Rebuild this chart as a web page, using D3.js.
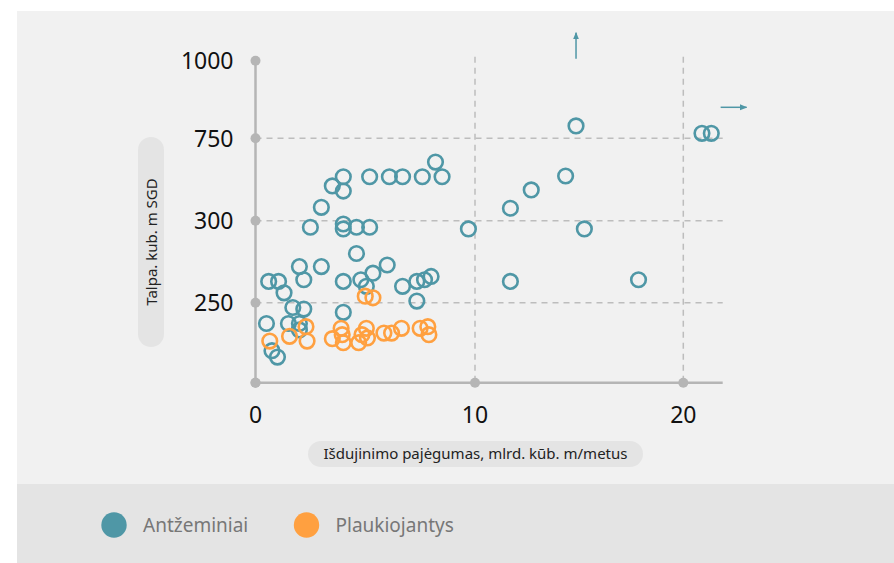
<!DOCTYPE html>
<html>
<head>
<meta charset="utf-8">
<script src="https://cdn.jsdelivr.net/npm/d3@7"></script>
<style>
  body { margin: 0; background: #fff; }
  text { font-family: "Noto Sans", "Open Sans", sans-serif; }
</style>
</head>
<body>
<div id="chart"></div>
<script>
// tick values and labels (y axis is broken / piecewise)
const yTicks = [200, 250, 300, 750, 1000];
const yTickLabels = ["", "250", "300", "750", "1000"];
const xTicks = [0, 10, 20];
const xTickLabels = ["0", "10", "20"];

// Antžeminiai
const groundX = [4.0, 3.5, 4.0, 3.0, 2.5, 4.0, 4.0, 4.6, 5.2, 5.2, 6.1, 6.7, 7.6, 8.2, 8.5, 4.6, 2.0, 3.0, 6.0, 0.6,
  1.05, 2.2, 4.0, 4.8, 5.35, 5.05, 1.3, 6.7, 7.35, 7.7, 8.0, 7.35, 1.7, 2.2, 4.0, 0.5, 1.5, 2.0, 2.0, 0.75,
  1.0, 9.7, 11.7, 15.25, 11.7, 17.85, 14.85, 20.9, 21.35, 14.35, 12.7];
const groundY = [540, 490, 462, 373, 296, 298, 295, 296, 296, 540, 540, 540, 540, 620, 540, 280, 272, 272, 273, 263,
  263, 264, 263, 264, 268, 260, 256, 260, 263, 264, 266, 251, 247, 246, 244, 237, 237, 237, 233, 220,
  216, 295, 368, 295, 263, 264, 790, 766, 766, 544, 468];

// Plaukiojantys
const floatX = [5.0, 5.35, 2.3, 0.65, 1.55, 2.35, 3.5, 3.9, 4.0, 3.95, 4.7, 4.85, 5.05, 5.1, 5.85, 6.2, 6.65, 7.5, 7.85, 7.9];
const floatY = [254, 253, 235, 226, 229, 226, 227.5, 234, 225, 230, 225, 230, 234, 228, 231, 231, 234, 234, 235, 230];

const seriesNames = ["Antžeminiai", "Plaukiojantys"];
const seriesColors = ["#4f97a6", "#ffa040"];

const width = 894;
const height = 563;
const axisColor = "#b5b5b5";

const svg = d3.select("#chart")
  .append("svg")
  .attr("width", width)
  .attr("height", height);

// backgrounds
svg.append("rect").attr("x", 17).attr("y", 11).attr("width", width - 17).attr("height", 473).attr("fill", "#f1f1f1");
svg.append("rect").attr("x", 17).attr("y", 484).attr("width", width - 17).attr("height", height - 484).attr("fill", "#e4e4e4");

// piecewise scales
const x = d3.scaleLinear()
  .domain([0, 10, 20, 21.9])
  .range([255.5, 475, 683.3, 722.7]);

const y = d3.scaleLinear()
  .domain(yTicks)
  .range([382.7, 302.7, 220.7, 138.3, 60.7]);

// grid lines
const grid = svg.append("g")
  .attr("stroke", "#bdbdbd")
  .attr("stroke-width", 1.5)
  .attr("stroke-dasharray", "6 5");

grid.selectAll(".hgrid")
  .data(yTicks.slice(1, 4))
  .join("line")
  .attr("x1", x(0))
  .attr("x2", x(21.9))
  .attr("y1", (d) => y(d))
  .attr("y2", (d) => y(d));

grid.selectAll(".vgrid")
  .data(xTicks.slice(1))
  .join("line")
  .attr("x1", (d) => x(d))
  .attr("x2", (d) => x(d))
  .attr("y1", y(1000) - 4)
  .attr("y2", y(200));

// axes
const axes = svg.append("g");
axes.append("line")
  .attr("x1", x(0)).attr("x2", x(0))
  .attr("y1", y(1000)).attr("y2", y(200))
  .attr("stroke", axisColor).attr("stroke-width", 2.5);
axes.append("line")
  .attr("x1", x(0)).attr("x2", x(21.9))
  .attr("y1", y(200)).attr("y2", y(200))
  .attr("stroke", axisColor).attr("stroke-width", 2.5);

axes.selectAll(".ydot")
  .data(yTicks)
  .join("circle")
  .attr("cx", x(0))
  .attr("cy", (d) => y(d))
  .attr("r", 5)
  .attr("fill", axisColor);

axes.selectAll(".xdot")
  .data(xTicks)
  .join("circle")
  .attr("cx", (d) => x(d))
  .attr("cy", y(200))
  .attr("r", 5)
  .attr("fill", axisColor);

axes.selectAll(".ylabel")
  .data(yTicks)
  .join("text")
  .attr("x", x(0) - 22)
  .attr("y", (d) => y(d))
  .attr("dy", "0.36em")
  .attr("text-anchor", "end")
  .attr("font-size", 23)
  .attr("fill", "#111")
  .text((d, i) => yTickLabels[i]);

axes.selectAll(".xlabel")
  .data(xTicks)
  .join("text")
  .attr("x", (d) => x(d))
  .attr("y", y(200) + 40)
  .attr("text-anchor", "middle")
  .attr("font-size", 23)
  .attr("fill", "#111")
  .text((d, i) => xTickLabels[i]);

// axis titles in pills
svg.append("rect")
  .attr("x", 308).attr("y", 441).attr("width", 335).attr("height", 26)
  .attr("rx", 13).attr("fill", "#e4e4e4");
svg.append("text")
  .text("Išdujinimo pajėgumas, mlrd. kūb. m/metus")
  .attr("x", 475.5).attr("y", 459)
  .attr("text-anchor", "middle")
  .attr("font-size", 15)
  .attr("fill", "#222");

svg.append("rect")
  .attr("x", 138).attr("y", 137).attr("width", 26).attr("height", 210)
  .attr("rx", 13).attr("fill", "#e4e4e4");
svg.append("text")
  .text("Talpa. kub. m SGD")
  .attr("transform", "translate(156.5, 242) rotate(-90)")
  .attr("text-anchor", "middle")
  .attr("font-size", 15)
  .attr("fill", "#222");

// points
const series = [
  groundX.map((v, i) => ({ x: v, y: groundY[i] })),
  floatX.map((v, i) => ({ x: v, y: floatY[i] })),
];

series.forEach((pts, s) => {
  svg.append("g")
    .selectAll("circle")
    .data(pts)
    .join("circle")
    .attr("cx", (d) => x(d.x))
    .attr("cy", (d) => y(d.y))
    .attr("r", 7.3)
    .attr("fill", "none")
    .attr("stroke", seriesColors[s])
    .attr("stroke-width", 2.6);
});

// off-scale arrows
svg.append("defs").append("marker")
  .attr("id", "arrow")
  .attr("viewBox", "0 0 10 10")
  .attr("refX", 9).attr("refY", 5)
  .attr("markerWidth", 5).attr("markerHeight", 5)
  .attr("orient", "auto")
  .append("path")
  .attr("d", "M0,1 L10,5 L0,9 Z")
  .attr("fill", seriesColors[0]);

svg.append("line")
  .attr("x1", x(14.85)).attr("x2", x(14.85))
  .attr("y1", y(1000) - 2).attr("y2", y(1000) - 28)
  .attr("stroke", seriesColors[0]).attr("stroke-width", 1.5)
  .attr("marker-end", "url(#arrow)");

svg.append("line")
  .attr("x1", x(21.8)).attr("x2", x(21.8) + 26)
  .attr("y1", y(750) - 31).attr("y2", y(750) - 31)
  .attr("stroke", seriesColors[0]).attr("stroke-width", 1.5)
  .attr("marker-end", "url(#arrow)");

// legend
const legend = svg.append("g")
  .selectAll("g")
  .data(seriesNames)
  .join("g")
  .attr("transform", (d, i) => `translate(${114 + i * 192.5}, 525)`);

legend.append("circle")
  .attr("r", 12.7)
  .attr("fill", (d, i) => seriesColors[i]);

legend.append("text")
  .attr("x", 29)
  .attr("dy", "0.36em")
  .attr("font-size", 19)
  .attr("fill", "#777")
  .text((d) => d);
</script>
</body>
</html>
